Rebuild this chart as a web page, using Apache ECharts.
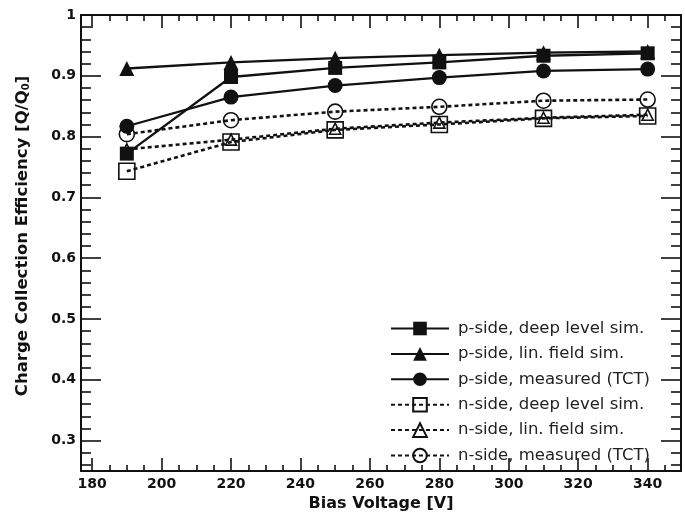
<!DOCTYPE html>
<html>
<head>
<meta charset="utf-8">
<script src="https://cdn.jsdelivr.net/npm/echarts@6/dist/echarts.min.js"></script>
<style>
html,body{margin:0;padding:0;background:#fff;}
#chart{width:685px;height:516px;}
</style>
</head>
<body>
<div id="chart"></div>
<script>
// ---- data ----
const biasVoltage = [190, 220, 250, 280, 310, 340];
const pDeepLevel = [0.772, 0.898, 0.913, 0.922, 0.933, 0.937];
const pLinField  = [0.912, 0.922, 0.929, 0.934, 0.938, 0.940];
const pMeasured  = [0.817, 0.865, 0.884, 0.897, 0.908, 0.911];
const nDeepLevel = [0.743, 0.791, 0.811, 0.820, 0.830, 0.834];
const nLinField  = [0.779, 0.795, 0.813, 0.823, 0.831, 0.836];
const nMeasured  = [0.804, 0.827, 0.841, 0.849, 0.859, 0.861];
const seriesNames = [
  'p-side, deep level sim.',
  'p-side, lin. field sim.',
  'p-side, measured (TCT)',
  'n-side, deep level sim.',
  'n-side, lin. field sim.',
  'n-side, measured (TCT)'
];
const xTickLabels = [180, 200, 220, 240, 260, 280, 300, 320, 340];
const yTickLabels = [0.3, 0.4, 0.5, 0.6, 0.7, 0.8, 0.9, 1];
const xTitle = 'Bias Voltage [V]';
const yTitle = 'Charge Collection Efficiency [Q/Q';

// ---- axis helpers ----
const XMIN = 176.8, XMAX = 349.6, YMIN = 0.25, YMAX = 1.0;
const xMinor = [];
for (let v = 180; v <= 345; v += 5) if (xTickLabels.indexOf(v) < 0) xMinor.push(v);
const yMinor = [];
for (let i = 13; i <= 49; i++) if (i % 5 !== 0) yMinor.push(Math.round(i * 2) / 100);

const FONT = 'DejaVu Sans';
const BLACK = '#111';

function xAx(pos, values, len, withLabel, lineShow) {
  return {
    type: 'value', min: XMIN, max: XMAX, position: pos,
    axisLine: { show: lineShow, onZero: false, lineStyle: { color: BLACK, width: 2 } },
    axisTick: { show: true, inside: true, length: len, customValues: values, lineStyle: { color: BLACK, width: 1.6 } },
    axisLabel: withLabel ? {
      show: true, customValues: values, margin: 6, color: BLACK,
      fontFamily: FONT, fontWeight: 'bold', fontSize: 14
    } : { show: false },
    splitLine: { show: false }
  };
}
function yAx(pos, values, len, withLabel, lineShow) {
  return {
    type: 'value', min: YMIN, max: YMAX, position: pos,
    axisLine: { show: lineShow, onZero: false, lineStyle: { color: BLACK, width: 2 } },
    axisTick: { show: true, inside: true, length: len, customValues: values, lineStyle: { color: BLACK, width: 1.6 } },
    axisLabel: withLabel ? {
      show: true, customValues: values, margin: 5, color: BLACK,
      fontFamily: FONT, fontWeight: 'bold', fontSize: 14,
      formatter: v => (Math.abs(v - 1) < 1e-9 ? '1' : v.toFixed(1))
    } : { show: false },
    splitLine: { show: false }
  };
}

const xAxes = [
  xAx('bottom', xTickLabels, 13, true, true),
  xAx('bottom', xMinor, 6, false, false),
  xAx('top', xTickLabels, 13, false, true),
  xAx('top', xMinor, 6, false, false)
];
Object.assign(xAxes[0], {
  name: xTitle, nameLocation: 'middle', nameGap: 21,
  nameTextStyle: { fontFamily: FONT, fontWeight: 'bold', fontSize: 16, color: BLACK }
});
const yAxes = [
  yAx('left', yTickLabels, 20, true, true),
  yAx('left', yMinor, 10, false, false),
  yAx('right', yTickLabels, 20, false, true),
  yAx('right', yMinor, 10, false, false)
];

const styles = [
  { sym: 'rect', size: 14, filled: true, dashed: false, z: 4 },
  { sym: 'triangle', size: 15, filled: true, dashed: false, z: 4 },
  { sym: 'circle', size: 15, filled: true, dashed: false, z: 5 },
  { sym: 'rect', size: 16, filled: false, dashed: true, z: 2 },
  { sym: 'triangle', size: 11, filled: false, dashed: true, z: 3 },
  { sym: 'circle', size: 15, filled: false, dashed: true, z: 2 }
];
const allData = [pDeepLevel, pLinField, pMeasured, nDeepLevel, nLinField, nMeasured];

const series = allData.map((vals, i) => {
  const s = styles[i];
  return {
    name: seriesNames[i],
    type: 'line',
    xAxisIndex: 0, yAxisIndex: 0,
    data: biasVoltage.map((x, j) => [x, vals[j]]),
    symbol: s.sym,
    symbolSize: s.size,
    showAllSymbol: true,
    z: s.z,
    lineStyle: { color: BLACK, width: s.dashed ? 2.6 : 2.3, type: s.dashed ? [4, 3] : 'solid' },
    itemStyle: s.filled
      ? { color: BLACK, borderWidth: 0 }
      : { color: 'rgba(255,255,255,0)', borderColor: BLACK, borderWidth: 1.6 },
    emphasis: { disabled: true },
    animation: false
  };
});

const chart = echarts.init(document.getElementById('chart'), null, { renderer: 'canvas' });
chart.setOption({
  animation: false,
  backgroundColor: '#fff',
  grid: { left: 81, right: 4, top: 15, bottom: 45, containLabel: false, outerBoundsMode: 'none' },
  xAxis: xAxes,
  yAxis: yAxes,
  legend: {
    orient: 'vertical',
    left: 385, top: 315,
    itemWidth: 58, itemHeight: 17, itemGap: 8.4,
    textStyle: { fontFamily: FONT, fontSize: 16.5, color: '#222', padding: [0, 0, 0, 4] },
    data: seriesNames,
    selectedMode: false
  },
  graphic: [{
    type: 'text',
    x: 23, y: 236,
    rotation: Math.PI / 2,
    style: {
      text: '{a|' + yTitle + '}{s|0}{a|]}',
      rich: {
        a: { fontFamily: FONT, fontWeight: 'bold', fontSize: 16.5, fill: BLACK, color: BLACK },
        s: { fontFamily: FONT, fontWeight: 'bold', fontSize: 10, fill: BLACK, color: BLACK, padding: [7, 0, 0, 0] }
      },
      align: 'center', verticalAlign: 'middle',
      textAlign: 'center', textVerticalAlign: 'middle'
    }
  }],
  series: series
});
</script>
</body>
</html>
